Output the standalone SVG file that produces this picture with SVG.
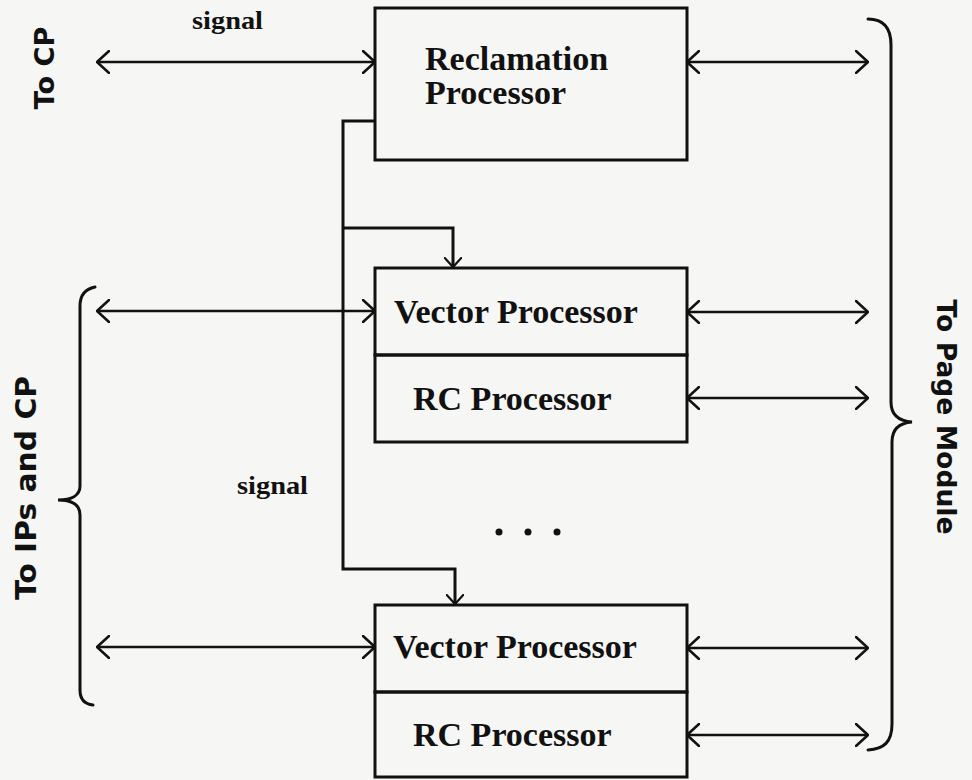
<svg xmlns="http://www.w3.org/2000/svg" width="972" height="780" viewBox="0 0 972 780">
  <style>
    .box { fill: none; stroke: #111; stroke-width: 3; }
    .lbl { font-family: "Liberation Serif", "Times New Roman", serif; font-weight: bold; font-size: 34px; fill: #111; }
    .sig { font-family: "Liberation Serif", "Times New Roman", serif; font-weight: bold; font-size: 25px; fill: #111; }
    .hand { font-family: "DejaVu Sans", "Liberation Sans", sans-serif; font-weight: bold; fill: #111; }
    .wire { fill: none; stroke: #111; stroke-width: 3; stroke-linejoin: miter; }
    .arr { fill: none; stroke: #111; stroke-width: 2.5; marker-start: url(#ah); marker-end: url(#ah); }
    .brace { fill: none; stroke: #111; stroke-width: 3; stroke-linecap: round; }
  </style>
  <defs>
    <marker id="ah" viewBox="0 0 14 24" refX="13" refY="12" markerWidth="14" markerHeight="24" markerUnits="userSpaceOnUse" orient="auto-start-reverse">
      <path d="M1,1 L13,12 L1,23" fill="none" stroke="#111" stroke-width="2.5" stroke-linecap="round" stroke-linejoin="round"/>
    </marker>
    <marker id="ahs" viewBox="0 0 14 24" refX="13" refY="12" markerWidth="11" markerHeight="18" markerUnits="userSpaceOnUse" orient="auto">
      <path d="M1,1 L13,12 L1,23" fill="none" stroke="#111" stroke-width="3" stroke-linecap="round" stroke-linejoin="round"/>
    </marker>
  </defs>
  <rect x="0" y="0" width="972" height="780" fill="#f6f6f4"/>

  <g id="reclamation">
    <rect class="box" x="375" y="8" width="312" height="152"/>
    <text class="lbl" x="425" y="70">Reclamation</text>
    <text class="lbl" x="425" y="104">Processor</text>
  </g>

  <g id="vector1">
    <rect class="box" x="375" y="268" width="312" height="87"/>
    <text class="lbl" x="394" y="323">Vector Processor</text>
  </g>
  <g id="rc1">
    <rect class="box" x="375" y="355" width="312" height="87"/>
    <text class="lbl" x="413" y="410">RC Processor</text>
  </g>

  <g id="vector2">
    <rect class="box" x="375" y="605" width="312" height="87"/>
    <text class="lbl" x="393" y="658">Vector Processor</text>
  </g>
  <g id="rc2">
    <rect class="box" x="375" y="692" width="312" height="85"/>
    <text class="lbl" x="413" y="746">RC Processor</text>
  </g>

  <g id="labels">
    <text class="sig" x="192" y="29" textLength="71" lengthAdjust="spacingAndGlyphs">signal</text>
    <text class="sig" x="237" y="494" textLength="71" lengthAdjust="spacingAndGlyphs">signal</text>
    <text class="hand" font-size="27" transform="translate(54,68) rotate(-90)" text-anchor="middle" textLength="83" lengthAdjust="spacingAndGlyphs">To CP</text>
    <text class="hand" font-size="28" transform="translate(36,488) rotate(-90)" text-anchor="middle" textLength="224" lengthAdjust="spacingAndGlyphs">To IPs and CP</text>
    <text class="hand" font-size="27" transform="translate(937,417) rotate(90)" text-anchor="middle" textLength="235" lengthAdjust="spacingAndGlyphs">To Page Module</text>
    <circle cx="499" cy="532" r="3.5" fill="#111"/>
    <circle cx="528" cy="532" r="3.5" fill="#111"/>
    <circle cx="557" cy="532" r="3.5" fill="#111"/>
  </g>

  <g id="connectors">
    <line class="arr" x1="97" y1="62" x2="375" y2="62"/>
    <line class="arr" x1="687" y1="62" x2="868" y2="62"/>
    <line class="arr" x1="97" y1="311" x2="375" y2="311"/>
    <line class="arr" x1="687" y1="312" x2="868" y2="312"/>
    <line class="arr" x1="687" y1="398" x2="868" y2="398"/>
    <line class="arr" x1="97" y1="647" x2="375" y2="647"/>
    <line class="arr" x1="687" y1="648" x2="868" y2="648"/>
    <line class="arr" x1="687" y1="735" x2="868" y2="735"/>
    <path class="wire" d="M375,121 H343 V569 H455 V604" marker-end="url(#ahs)"/>
    <path class="wire" d="M343,228 H453 V267" marker-end="url(#ahs)"/>
    <path class="brace" d="M95,287 C85,289 80,295 80,306 L80,486 C80,495 72,500 58,500 C72,500 80,505 80,515 L80,690 C80,699 84,704 93,705"/>
    <path class="brace" d="M868,19 C884,19 891,28 891,45 L891,402 C891,414 898,421 912,422 C898,423 892,430 892,442 L892,724 C892,742 884,749 868,750"/>
  </g>
</svg>
